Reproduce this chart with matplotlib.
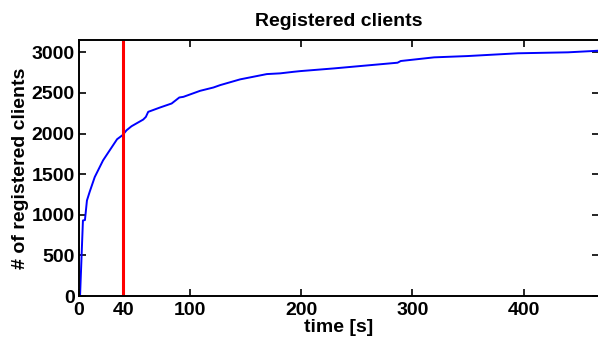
import matplotlib
matplotlib.use("Agg")
import matplotlib.pyplot as plt

# registered clients over time
time_s = [0, 1, 3.6, 5.4, 7.2, 9.6, 14.2, 21.7, 27.7, 34.3, 39.2, 42.8, 47.3,
          57.8, 60.2, 62.3, 72.8, 83.4, 90.3, 94, 109, 121, 127, 145, 169,
          181, 193, 199.4, 229.5, 259.6, 286.6, 289.5, 319.5, 349.6, 394.8,
          440, 468]
clients = [0, 0, 930, 935, 1176, 1280, 1464, 1670, 1794, 1930, 1980, 2040,
           2090, 2172, 2205, 2267, 2320, 2370, 2444, 2452, 2526, 2567, 2596,
           2667, 2732, 2741, 2760, 2769, 2802, 2839, 2872, 2893, 2938, 2954,
           2988, 3000, 3020]
marker_time = 40
x_ticks = [0, 40, 100, 200, 300, 400]
y_ticks = [0, 500, 1000, 1500, 2000, 2500, 3000]

plt.rcParams["font.family"] = ["Liberation Sans", "DejaVu Sans"]
plt.rcParams["font.weight"] = "bold"

fig = plt.figure(figsize=(5.98, 3.43), dpi=100)
ax = fig.add_axes([0.132, 0.137, 0.870, 0.746])

ax.plot(time_s, clients, color="#0000ff", lw=1.4)
ax.axvline(marker_time, color="#ff0000", lw=2.2)

ax.set_xlim(0, 468)
ax.set_ylim(0, 3150)
ax.set_xticks(x_ticks)
ax.set_yticks(y_ticks)
ax.tick_params(direction="in", top=True, right=True, length=5, width=1.2,
               labelsize=14)
ax.tick_params(axis="x", pad=4)
ax.tick_params(axis="y", pad=3)
for lbl in ax.get_xticklabels() + ax.get_yticklabels():
    lbl.set_fontweight("bold")
for sp in ax.spines.values():
    sp.set_linewidth(1.4)

ax.set_title("Registered clients", fontsize=14, fontweight="bold", pad=10)
ax.set_xlabel("time [s]", fontsize=14, fontweight="bold", labelpad=0)
ax.set_ylabel("# of registered clients", fontsize=14, fontweight="bold",
              labelpad=2)

fig.savefig("out.png", dpi=100)
